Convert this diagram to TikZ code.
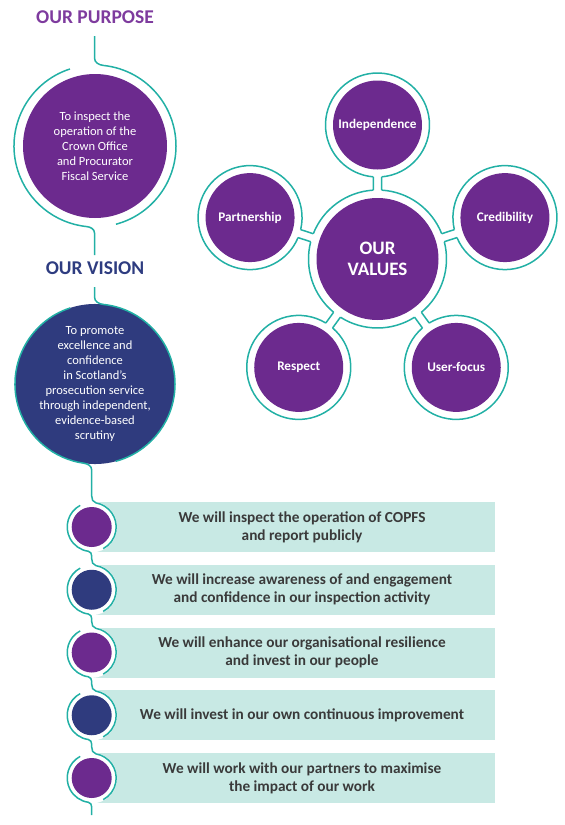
\documentclass[tikz,border=0pt]{standalone}
\usepackage{fontspec}
\setmainfont{Carlito}
\usetikzlibrary{calc}
\definecolor{cpurple}{HTML}{6C2A8E}
\definecolor{hpurple}{HTML}{7E3B9E}
\definecolor{cblue}{HTML}{2F3B7E}
\definecolor{hblue}{HTML}{2E3C80}
\definecolor{cteal}{HTML}{22B0A5}
\definecolor{cbox}{HTML}{C8E9E4}
\definecolor{ctext}{HTML}{3A3A3A}
\begin{document}
\begin{tikzpicture}[x=1pt,y=1pt,
  ring/.style={draw=cteal,line width=1.5pt},
  header/.style={font=\bfseries\fontsize{19.5}{21}\selectfont,inner sep=0},
  bigcirc/.style={circle,minimum size=144,inner sep=0,align=center,text=white,font=\fontsize{12.5}{15}\selectfont},
  valc/.style={circle,fill=cpurple,minimum size=122,inner sep=0,align=center,text=white,font=\bfseries\fontsize{19}{21}\selectfont},
  satc/.style={circle,fill=cpurple,minimum size=89,inner sep=0,text=white,font=\bfseries\fontsize{13.2}{15}\selectfont},
  boxbg/.style={fill=cbox,minimum width=403,minimum height=50,inner sep=0},
  boxtext/.style={align=center,text=ctext,font=\bfseries\fontsize{15.3}{18}\selectfont,inner sep=0},
  bullet/.style={circle,minimum size=40,inner sep=0}
]
\useasboundingbox (0,0) rectangle (565,-825);

% ---------- Purpose ----------
\node[header,text=hpurple] (ptitle) at (95,-17) {OUR PURPOSE};
\node[bigcirc,fill=cpurple] (purpose) at (95,-146) {To inspect the\\operation of the\\Crown Office\\and Procurator\\Fiscal Service};
\coordinate (ptop) at (94.5,-36);
\coordinate (pbot) at (94.5,-255);
\draw[ring] (ptop) -- (94.5,-58) to[out=-90,in=174] ($(purpose)+(84:81)$) arc[start angle=84,end angle=-75,radius=81];
\draw[ring] ($(purpose)+(108:81)$) arc[start angle=108,end angle=264,radius=81] to[out=-6,in=90] (94.5,-233) -- (pbot);

% ---------- Vision ----------
\node[header,text=hblue] (vtitle) at (95,-268) {OUR VISION};
\node[bigcirc,fill=cblue] (vision) at (95,-384) {To promote\\excellence and\\confidence\\in Scotland’s\\prosecution service\\through independent,\\evidence-based\\scrutiny};
\coordinate (vtop) at (94.5,-287);
\draw[ring] (vtop) -- (94.5,-297) to[out=-90,in=174] ($(vision)+(84:80)$) arc[start angle=84,end angle=-75,radius=80];

% ---------- Values ----------
\node[valc] (values) at (377.5,-259) {OUR\\VALUES};
\path (values) ++(90:134) node[satc] (ind) {Independence};
\path (values) ++(162:134) node[satc] (par) {Partnership};
\path (values) ++(18:134) node[satc] (cre) {Credibility};
\path (values) ++(234:134) node[satc] (res) {Respect};
\path (values) ++(306:134) node[satc] (use) {User-focus};
\foreach \n/\a in {ind/90,par/162,cre/18,res/234,use/306} {
  \draw[ring] ($(\n)+(\a+184.63:52)$) arc[start angle=\a+184.63,end angle=\a+535.37,radius=52];
  \draw[ring] ($(values)+(\a+3.49:69)$) -- ($(\n)+(\a+175.37:52)$);
  \draw[ring] ($(values)+(\a-3.49:69)$) -- ($(\n)+(\a+184.63:52)$);
  \draw[ring] ($(values)+(\a+3.49:69)$) arc[start angle=\a+3.49,end angle=\a+68.51,radius=69];
}

% ---------- Goals ----------
\foreach \i/\c/\col/\t in {
  1/527/cpurple/{We will inspect the operation of COPFS\\and report publicly},
  2/589.75/cblue/{We will increase awareness of and engagement\\and confidence in our inspection activity},
  3/652.5/cpurple/{We will enhance our organisational resilience\\and invest in our people},
  4/715.25/cblue/{We will invest in our own continuous improvement},
  5/778/cpurple/{We will work with our partners to maximise\\the impact of our work}} {
  \node[boxbg] (box\i) at (293.5,-\c) {};
  \node[boxtext] (txt\i) at (302,-\c) {\t};
  \fill[white] (91.7,-\c) circle (25.4);
  \node[bullet,fill=\col] (b\i) at (91.7,-\c) {};
}
% chain from vision to first bullet
\draw[ring] ($(vision)+(108:80)$) arc[start angle=108,end angle=262,radius=80] to[out=-8,in=90] (91.7,-470) -- (91.7,-496) to[out=-90,in=170] ($(b1)+(80:24.5)$) arc[start angle=80,end angle=-62,radius=24.5];
% chain between bullets
\foreach \i/\j/\c/\n in {1/2/527/589.75,2/3/589.75/652.5,3/4/652.5/715.25,4/5/715.25/778} {
  \draw[ring] ($(b\i)+(118:24.5)$) arc[start angle=118,end angle=262,radius=24.5] to[out=-8,in=90] (91.7,{-\c-29}) -- (91.7,{-\n+31}) to[out=-90,in=170] ($(b\j)+(80:24.5)$) arc[start angle=80,end angle=-62,radius=24.5];
}
\coordinate (endc) at (91.7,-815);
\draw[ring] ($(b5)+(118:24.5)$) arc[start angle=118,end angle=262,radius=24.5] to[out=-8,in=90] (91.7,-807) -- (endc);
\end{tikzpicture}
\end{document}
